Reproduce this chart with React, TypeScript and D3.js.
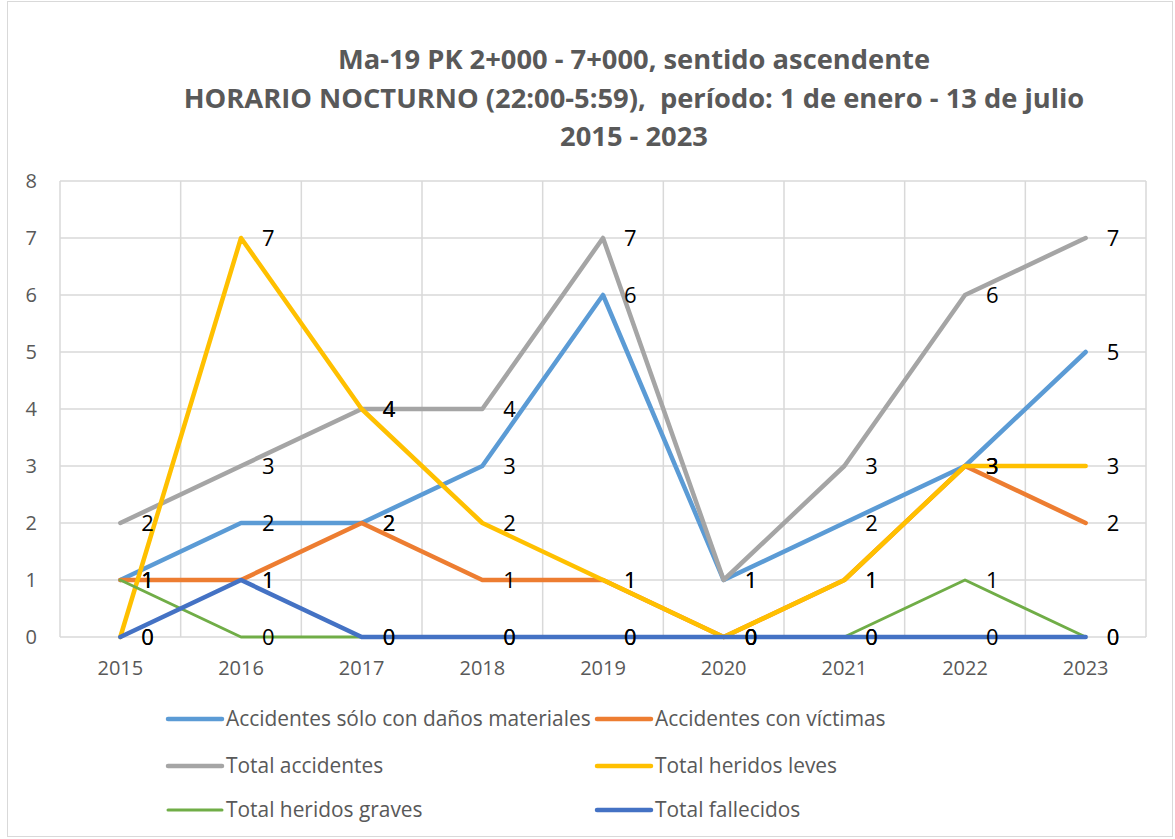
import React from "react";
import * as d3 from "d3";

const years = ["2015", "2016", "2017", "2018", "2019", "2020", "2021", "2022", "2023"];
const danosMateriales = [1, 2, 2, 3, 6, 1, 2, 3, 5];
const conVictimas = [1, 1, 2, 1, 1, 0, 1, 3, 2];
const totalAccidentes = [2, 3, 4, 4, 7, 1, 3, 6, 7];
const heridosLeves = [0, 7, 4, 2, 1, 0, 1, 3, 3];
const heridosGraves = [1, 0, 0, 0, 0, 0, 0, 1, 0];
const fallecidos = [0, 1, 0, 0, 0, 0, 0, 0, 0];
const yTicks = [0, 1, 2, 3, 4, 5, 6, 7, 8];
const titleLines = [
  "Ma-19 PK 2+000 - 7+000, sentido ascendente",
  "HORARIO NOCTURNO (22:00-5:59),  período: 1 de enero - 13 de julio",
  "2015 - 2023",
];

const series = [
  { name: "Accidentes sólo con daños materiales", values: danosMateriales, color: "#5B9BD5", w: 4.5 },
  { name: "Accidentes con víctimas", values: conVictimas, color: "#ED7D31", w: 4.5 },
  { name: "Total accidentes", values: totalAccidentes, color: "#A5A5A5", w: 4.5 },
  { name: "Total heridos leves", values: heridosLeves, color: "#FFC000", w: 4.5 },
  { name: "Total heridos graves", values: heridosGraves, color: "#70AD47", w: 3 },
  { name: "Total fallecidos", values: fallecidos, color: "#4472C4", w: 4.5 },
];

export default function App() {
  const W = 1175, H = 839;
  const left = 60, right = 1146, top = 181, bottom = 637;
  const x = d3.scaleBand<string>().domain(years).range([left, right]);
  const y = d3.scaleLinear().domain([0, 8]).range([bottom, top]);
  const cx = (yr: string) => (x(yr) as number) + x.bandwidth() / 2;
  const line = d3
    .line<number>()
    .x((_, i) => cx(years[i]))
    .y((d) => y(d));
  const font = "'Open Sans', sans-serif";
  const legendPos = [
    { x: 168, y: 719 },
    { x: 597, y: 719 },
    { x: 168, y: 766 },
    { x: 597, y: 766 },
    { x: 168, y: 810 },
    { x: 597, y: 810 },
  ];
  const bounds = [...years.map((yr) => x(yr) as number), right];
  return (
    <svg width={W} height={H} style={{ position: "absolute", left: 0, top: 0, background: "#fff" }} fontFamily={font}>
      <rect x={0} y={0} width={W} height={H} fill="#fff" />
      <rect x={7.5} y={1.5} width={1165} height={835} fill="none" stroke="#D9D9D9" strokeWidth={1} />
      {titleLines.map((t, i) => (
        <text
          key={i}
          x={634}
          y={69 + i * 38.5}
          textAnchor="middle"
          fontSize={27.3}
          fontWeight="bold"
          fill="#595959"
          style={{ whiteSpace: "pre" }}
        >
          {t}
        </text>
      ))}
      {yTicks.map((t) => (
        <line key={"gy" + t} x1={left} x2={right} y1={y(t)} y2={y(t)} stroke="#D9D9D9" strokeWidth={1.5} />
      ))}
      {bounds.map((b, i) => (
        <line key={"gx" + i} x1={b} x2={b} y1={top} y2={bottom} stroke="#D9D9D9" strokeWidth={1.5} />
      ))}
      {yTicks.map((t) => (
        <text key={"yl" + t} x={37} y={y(t)} dy="0.35em" textAnchor="end" fontSize={20} fill="#595959">
          {t}
        </text>
      ))}
      {years.map((yr) => (
        <text key={"xl" + yr} x={cx(yr)} y={675} textAnchor="middle" fontSize={20} fill="#595959">
          {yr}
        </text>
      ))}
      {series.map((s) => (
        <path
          key={s.name}
          d={line(s.values) || ""}
          fill="none"
          stroke={s.color}
          strokeWidth={s.w}
          strokeLinejoin="round"
          strokeLinecap="round"
        />
      ))}
      {series.map((s) =>
        s.values.map((v, i) => (
          <text key={s.name + i} x={cx(years[i]) + 21} y={y(v)} dy="0.36em" fontSize={22} fill="#000">
            {v}
          </text>
        ))
      )}
      {series.map((s, i) => (
        <g key={"lg" + i}>
          <line
            x1={legendPos[i].x}
            x2={legendPos[i].x + 54}
            y1={legendPos[i].y}
            y2={legendPos[i].y}
            stroke={s.color}
            strokeWidth={s.w}
            strokeLinecap="round"
          />
          <text x={legendPos[i].x + 58} y={legendPos[i].y} dy="0.35em" fontSize={20.9} fill="#595959">
            {s.name}
          </text>
        </g>
      ))}
    </svg>
  );
}
